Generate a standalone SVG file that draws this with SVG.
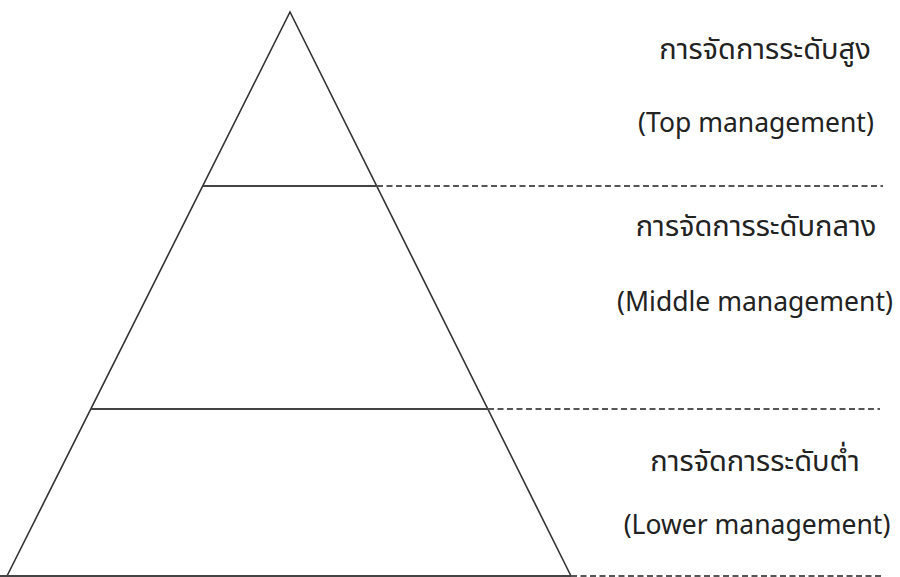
<svg xmlns="http://www.w3.org/2000/svg" width="900" height="577" viewBox="0 0 900 577">
<style>
.edge{stroke:#333;stroke-width:1.6;fill:none}
.lvl{stroke:#444;stroke-width:2;fill:none}
.dash{stroke:#555;stroke-width:1.8;stroke-dasharray:6,3.5;fill:none}
.t{font-family:"Noto Sans","Open Sans","Noto Sans Thai","DejaVu Sans",sans-serif;fill:#222;text-anchor:middle}
.th{font-size:29px}
.en{font-size:26.5px}
</style>
<rect width="900" height="577" fill="#fff"/>
<g id="pyramid">
<path class="edge" d="M7,576 L290,12 L571,576"/>
<line class="lvl" x1="0" y1="576" x2="571" y2="576"/>
</g>
<g id="top-level">
<line class="lvl" x1="203" y1="186" x2="377" y2="186"/>
<text class="t th" x="765" y="59">การจัดการระดับสูง</text>
<text class="t en" x="756" y="132">(Top management)</text>
</g>
<g id="middle-level">
<line class="lvl" x1="91" y1="409" x2="488" y2="409"/>
<text class="t th" x="756" y="236">การจัดการระดับกลาง</text>
<text class="t en" x="755" y="311">(Middle management)</text>
</g>
<g id="lower-level">
<text class="t th" x="755" y="471">การจัดการระดับต่ำ</text>
<text class="t en" x="757" y="534">(Lower management)</text>
</g>
<g id="connectors">
<line class="dash" x1="377" y1="186" x2="883" y2="186"/>
<line class="dash" x1="488" y1="409" x2="880" y2="409"/>
<line class="dash" x1="571" y1="576" x2="883" y2="576"/>
</g>
</svg>
